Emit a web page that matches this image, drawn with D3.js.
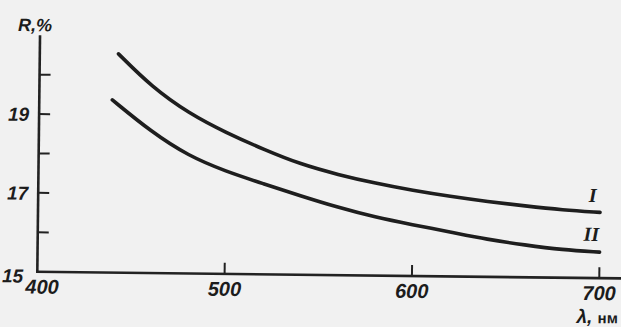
<!DOCTYPE html>
<html>
<head>
<meta charset="utf-8">
<script src="https://cdn.jsdelivr.net/npm/d3@7"></script>
<style>
  html, body { margin: 0; padding: 0; background: #f1f1f1; }
  svg { display: block; }
  .lbl { font-family: "Liberation Sans", "DejaVu Sans", sans-serif; font-style: italic; font-weight: bold; fill: #1c1c1c; }
  .rom { font-family: "Liberation Serif", "DejaVu Serif", serif; font-style: italic; font-weight: bold; fill: #1c1c1c; }
</style>
</head>
<body>
<div id="chart"></div>
<script>
// wavelength, nm
const lambdaI  = [442, 460, 480, 500, 520, 540, 560, 580, 600, 620, 640, 660, 680, 700];
const lambdaII = [439, 460, 480, 500, 520, 540, 560, 580, 600, 620, 640, 660, 680, 700];
// reflectance R, %
const curveI  = [20.55, 19.72, 19.06, 18.58, 18.17, 17.80, 17.55, 17.34, 17.17, 17.03, 16.91, 16.81, 16.72, 16.67];
const curveII = [19.38, 18.58, 17.98, 17.60, 17.30, 17.00, 16.72, 16.48, 16.30, 16.13, 15.95, 15.82, 15.71, 15.66];

const xTicks = [500, 600, 700];
const xTickLabels = ["400", "500", "600", "700"];
const yTicks = [16, 17, 18, 19, 20];
const yTickLabels = ["17", "19"];

const width = 621, height = 327;

const svg = d3.select("#chart")
  .append("svg")
  .attr("width", width)
  .attr("height", height);

// the scan is slightly skewed, so the whole frame gets a small turn
const g = svg.append("g")
  .attr("transform", "translate(37.3,271.7) rotate(0.66)");

const x = d3.scaleLinear().domain([400, 700]).range([0, 562]);
const y = d3.scaleLinear().domain([15, 21]).range([0, -236.5]);

// axes
g.append("line")
  .attr("x1", 0).attr("y1", y(15))
  .attr("x2", 0).attr("y2", y(21))
  .attr("stroke", "#222").attr("stroke-width", 2.6);

g.append("line")
  .attr("x1", -1.3).attr("y1", 0)
  .attr("x2", x(712)).attr("y2", 0)
  .attr("stroke", "#222").attr("stroke-width", 2.6);

g.selectAll(".ytick")
  .data(yTicks)
  .join("line")
    .attr("x1", 0).attr("x2", 11)
    .attr("y1", d => y(d)).attr("y2", d => y(d))
    .attr("stroke", "#222").attr("stroke-width", 2);

g.selectAll(".xtick")
  .data(xTicks)
  .join("line")
    .attr("x1", d => x(d)).attr("x2", d => x(d))
    .attr("y1", 0).attr("y2", -11)
    .attr("stroke", "#222").attr("stroke-width", 2);

// tick labels
g.selectAll(".xlab")
  .data(xTickLabels)
  .join("text")
    .attr("class", "lbl")
    .attr("x", (d, i) => x(+d) + (i == 0 ? 5 : 0))
    .attr("y", 22)
    .attr("text-anchor", "middle")
    .style("font-size", "20px")
    .text(d => d);

g.selectAll(".ylab")
  .data(yTickLabels)
  .join("text")
    .attr("class", "lbl")
    .attr("x", -10)
    .attr("y", d => y(+d) + 7)
    .attr("text-anchor", "end")
    .style("font-size", "19px")
    .text(d => d);

g.append("text")
  .attr("class", "lbl")
  .attr("x", -14).attr("y", 11)
  .attr("text-anchor", "end")
  .style("font-size", "19px")
  .text("15");

g.append("text")
  .attr("class", "lbl")
  .attr("x", -5).attr("y", y(21) - 4)
  .attr("text-anchor", "middle")
  .style("font-size", "18px")
  .text("R,%");

g.append("text")
  .attr("class", "lbl")
  .attr("x", 581).attr("y", 45)
  .attr("text-anchor", "end")
  .style("font-size", "19px")
  .text("λ, ")
  .append("tspan")
    .style("font-style", "normal")
    .style("font-size", "15px")
    .text("нм");

// curves
const line = d3.line()
  .x(d => x(d[0]))
  .y(d => y(d[1]))
  .curve(d3.curveBasis);

g.append("path")
  .datum(d3.zip(lambdaI, curveI))
  .attr("d", line)
  .attr("fill", "none")
  .attr("stroke", "#1e1e1e")
  .attr("stroke-width", 3.6)
  .attr("stroke-linecap", "round");

g.append("path")
  .datum(d3.zip(lambdaII, curveII))
  .attr("d", line)
  .attr("fill", "none")
  .attr("stroke", "#1e1e1e")
  .attr("stroke-width", 3.6)
  .attr("stroke-linecap", "round");

// curve names
g.append("text")
  .attr("class", "rom")
  .attr("x", x(696)).attr("y", y(17.11) + 7)
  .attr("text-anchor", "middle")
  .style("font-size", "20px")
  .text("I");

g.append("text")
  .attr("class", "rom")
  .attr("x", x(695.5)).attr("y", y(16.12) + 7)
  .attr("text-anchor", "middle")
  .style("font-size", "20px")
  .text("II");
</script>
</body>
</html>
